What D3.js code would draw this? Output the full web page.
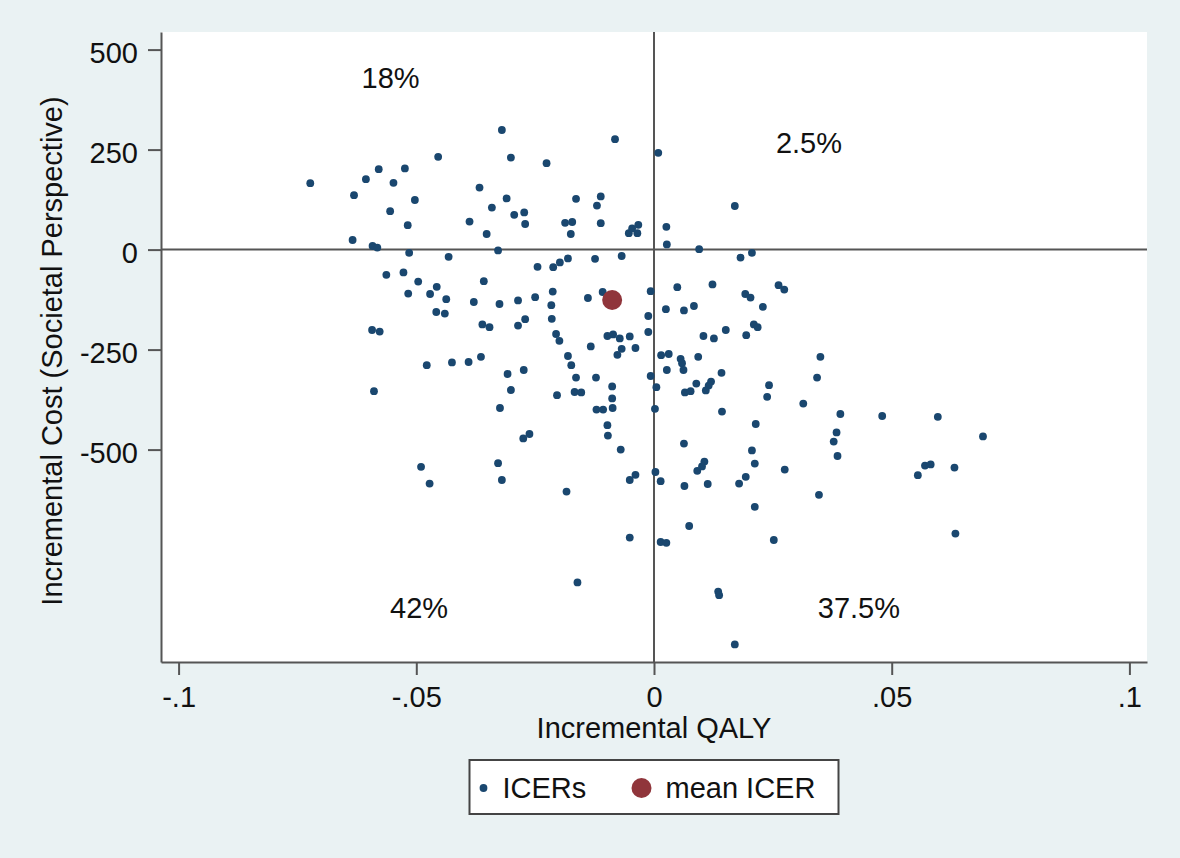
<!DOCTYPE html>
<html>
<head>
<meta charset="utf-8">
<script src="https://cdn.jsdelivr.net/npm/d3@7"></script>
<style>
  body { margin: 0; background: #eaf2f3; }
  text { font-family: "Liberation Sans", Arial, Helvetica, sans-serif; fill: #111; }
</style>
</head>
<body>
<div id="chart"></div>
<script>
// bootstrap ICERs: incremental QALY / incremental cost
var icerQaly = [
  -0.0723, -0.0631, -0.0606, -0.0579, -0.0548, -0.0524, -0.0555, -0.0503, -0.0518, -0.0454,
  -0.0634, -0.0592, -0.0582, -0.0515, -0.0432, -0.0563, -0.0527, -0.0496, -0.0457, -0.0471,
  -0.0517, -0.0437, -0.0458, -0.0440, -0.0593, -0.0577, -0.0478, -0.0589, -0.0425, -0.0390,
  -0.0364, -0.0320, -0.0301, -0.0226, -0.0367, -0.0310, -0.0341, -0.0294, -0.0273, -0.0271,
  -0.0388, -0.0352, -0.0328, -0.0164, -0.0112, -0.0120, -0.0187, -0.0172, -0.0175, -0.0112,
  -0.0082, 0.0009, -0.0053, -0.0046, -0.0033, -0.0035, 0.0026, 0.0027, 0.0095, -0.0245,
  -0.0212, -0.0198, -0.0181, -0.0124, -0.0068, -0.0358, -0.0379, -0.0325, -0.0286, -0.0250,
  -0.0213, -0.0216, -0.0139, -0.0108, -0.0007, 0.0049, 0.0025, 0.0063, 0.0084, -0.0215,
  -0.0271, -0.0286, -0.0361, -0.0346, -0.0012, -0.0012, -0.0206, -0.0199, -0.0098, -0.0086,
  -0.0072, -0.0051, -0.0133, -0.0068, -0.0077, -0.0039, 0.0015, 0.0031, 0.0056, 0.0059,
  0.0062, 0.0093, -0.0181, -0.0174, -0.0308, -0.0274, -0.0164, -0.0122, -0.0088, -0.0007,
  0.0005, 0.0027, 0.0065, 0.0077, 0.0089, -0.0301, -0.0204, -0.0167, -0.0153, -0.0088,
  -0.0324, -0.0121, -0.0107, -0.0087, 0.0002, -0.0098, -0.0097, -0.0275, -0.0262, -0.0070,
  0.0063, -0.0490, -0.0472, -0.0328, -0.0320, -0.0184, -0.0051, -0.0039, 0.0003, 0.0014,
  0.0064, 0.0091, 0.0074, -0.0051, 0.0014, 0.0026, -0.0161, 0.0170, 0.0182, 0.0206,
  0.0123, 0.0192, 0.0203, 0.0262, 0.0274, 0.0229, 0.0104, 0.0126, 0.0151, 0.0194,
  0.0210, 0.0218, 0.0142, 0.0120, 0.0115, 0.0109, 0.0242, 0.0238, 0.0350, 0.0343,
  0.0314, 0.0143, 0.0214, 0.0392, 0.0480, 0.0597, 0.0384, 0.0378, 0.0386, 0.0692,
  0.0206, 0.0212, 0.0106, 0.0101, 0.0113, 0.0179, 0.0193, 0.0275, 0.0347, 0.0212,
  0.0555, 0.0570, 0.0582, 0.0632, 0.0634, 0.0252, 0.0135, 0.0137, 0.0170
];
var icerCost = [
  166, 136, 176, 201, 167, 203, 96, 124, 61, 232,
  24, 9, 5, -8, -18, -63, -57, -80, -93, -111,
  -110, -124, -156, -160, -201, -205, -289, -354, -282, -281,
  -268, 299, 230, 216, 155, 128, 105, 87, 93, 64,
  70, 39, -2, 127, 133, 110, 67, 69, 39, 66,
  276, 242, 41, 53, 62, 41, 57, 13, 1, -43,
  -44, -32, -22, -23, -16, -79, -131, -136, -127, -119,
  -105, -139, -121, -106, -104, -94, -149, -152, -141, -173,
  -174, -190, -187, -194, -166, -206, -211, -228, -216, -212,
  -222, -217, -242, -248, -263, -246, -264, -261, -273, -284,
  -301, -268, -266, -289, -311, -301, -320, -320, -342, -316,
  -344, -301, -357, -354, -335, -351, -364, -356, -357, -372,
  -396, -400, -400, -396, -398, -439, -465, -472, -461, -500,
  -485, -543, -585, -534, -576, -605, -576, -563, -556, -579,
  -591, -553, -691, -720, -731, -733, -832, 109, -20, -8,
  -87, -111, -120, -89, -100, -143, -216, -222, -201, -214,
  -187, -194, -308, -330, -340, -352, -339, -368, -268, -320,
  -385, -405, -436, -411, -416, -418, -457, -480, -516, -467,
  -502, -535, -530, -542, -586, -585, -568, -550, -613, -643,
  -564, -540, -537, -545, -710, -726, -855, -864, -987
];
var meanQaly = [-0.0088];
var meanCost = [-126];

// aksar
var xTicks = [-0.1, -0.05, 0, 0.05, 0.1];
var xTickLabels = ["-.1", "-.05", "0", ".05", ".1"];
var yTicks = [500, 250, 0, -250, -500];
var yTickLabels = ["500", "250", "0", "-250", "-500"];

// share of ICERs per quadrant, placed at data coords
var quadLabels = ["18%", "2.5%", "42%", "37.5%"];
var quadQaly = [-0.0554, 0.0326, -0.0494, 0.0431];
var quadCost = [431, 267, -896, -895];

var legendLabels = ["ICERs", "mean ICER"];

var width = 1180;
var height = 858;
var plot = { left: 161, right: 1147, top: 32, bottom: 662 };
var navy = "#1a476f";
var maroon = "#90353b";
var lineCol = "#555";
var fontSize = 29;

var svg = d3.select("#chart")
  .append("svg")
  .attr("width", width)
  .attr("height", height)
  .style("background", "#eaf2f3");

var x = d3.scaleLinear()
  .domain([-0.1037, 0.1037])
  .range([plot.left, plot.right]);

var y = d3.scaleLinear()
  .domain([-1031, 544])
  .range([plot.bottom, plot.top]);

// vit plotyta
svg.append("rect")
  .attr("x", plot.left)
  .attr("y", plot.top)
  .attr("width", plot.right - plot.left)
  .attr("height", plot.bottom - plot.top)
  .style("fill", "white");

// referenslinjer vid 0
svg.append("line")
  .attr("x1", x(0)).attr("x2", x(0))
  .attr("y1", plot.top).attr("y2", plot.bottom)
  .style("stroke", lineCol).style("stroke-width", 2);
svg.append("line")
  .attr("x1", plot.left).attr("x2", plot.right)
  .attr("y1", y(0)).attr("y2", y(0))
  .style("stroke", lineCol).style("stroke-width", 2);

// axlar
var xAxis = d3.axisBottom(x)
  .tickValues(xTicks)
  .tickFormat(function (d, i) { return xTickLabels[i]; })
  .tickSize(13)
  .tickSizeOuter(0)
  .tickPadding(11);

var yAxis = d3.axisLeft(y)
  .tickValues(yTicks)
  .tickFormat(function (d, i) { return yTickLabels[i]; })
  .tickSize(13)
  .tickSizeOuter(0)
  .tickPadding(10);

var gx = svg.append("g")
  .attr("transform", "translate(0," + plot.bottom + ")")
  .call(xAxis);
var gy = svg.append("g")
  .attr("transform", "translate(" + plot.left + ",0)")
  .call(yAxis);

[gx, gy].forEach(function (g) {
  g.selectAll("path, line").style("stroke", lineCol).style("stroke-width", 2);
  g.selectAll("text")
    .style("font-size", fontSize + "px")
    .style("fill", "#111")
    .style("font-family", "'Liberation Sans', Arial, sans-serif");
});
gy.selectAll("text").attr("dy", "0.45em");

// axeltitlar
svg.append("text")
  .attr("x", x(0))
  .attr("y", 738)
  .attr("text-anchor", "middle")
  .style("font-size", fontSize + "px")
  .text("Incremental QALY");

svg.append("text")
  .attr("transform", "translate(62," + ((plot.top + plot.bottom) / 2 + 4) + ") rotate(-90)")
  .attr("text-anchor", "middle")
  .style("font-size", fontSize + "px")
  .text("Incremental Cost (Societal Perspective)");

// ICER-punkter
svg.selectAll(".icer")
  .data(icerQaly).enter()
  .append("circle")
  .attr("class", "icer")
  .attr("cx", function (d) { return x(d); })
  .attr("cy", function (d, i) { return y(icerCost[i]); })
  .attr("r", 3.9)
  .style("fill", navy);

// medel-ICER
svg.selectAll(".mean")
  .data(meanQaly).enter()
  .append("circle")
  .attr("class", "mean")
  .attr("cx", function (d) { return x(d); })
  .attr("cy", function (d, i) { return y(meanCost[i]); })
  .attr("r", 10)
  .style("fill", maroon);

// kvadrant-andelar
svg.selectAll(".quad")
  .data(quadLabels).enter()
  .append("text")
  .attr("class", "quad")
  .attr("x", function (d, i) { return x(quadQaly[i]); })
  .attr("y", function (d, i) { return y(quadCost[i]); })
  .attr("dy", "0.36em")
  .attr("text-anchor", "middle")
  .style("font-size", fontSize + "px")
  .text(function (d) { return d; });

// legend
var legW = 369, legH = 54;
var legend = svg.append("g")
  .attr("transform", "translate(" + (x(0) - legW / 2) + ",760)");
legend.append("rect")
  .attr("width", legW)
  .attr("height", legH)
  .style("fill", "white")
  .style("stroke", "#444")
  .style("stroke-width", 2);
legend.append("circle")
  .attr("cx", 14).attr("cy", 28).attr("r", 3.9)
  .style("fill", navy);
legend.append("text")
  .attr("x", 33).attr("y", 28).attr("dy", "0.36em")
  .style("font-size", fontSize + "px")
  .text(legendLabels[0]);
legend.append("circle")
  .attr("cx", 172).attr("cy", 28).attr("r", 10)
  .style("fill", maroon);
legend.append("text")
  .attr("x", 196).attr("y", 28).attr("dy", "0.36em")
  .style("font-size", fontSize + "px")
  .text(legendLabels[1]);
</script>
</body>
</html>
